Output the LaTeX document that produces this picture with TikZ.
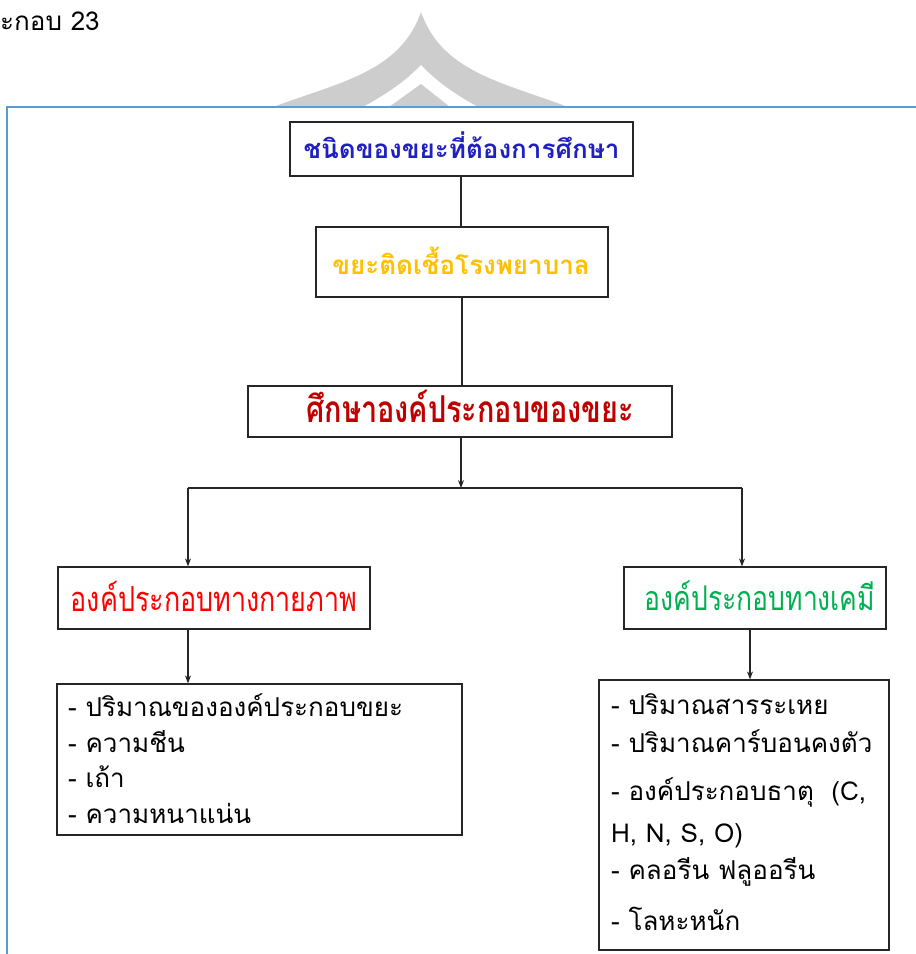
\documentclass[tikz,border=0pt]{standalone}
\usepackage{fontspec}
\newfontfamily\thai[Script=Thai]{Loma}
\newfontfamily\thaitall[Script=Thai,FakeStretch=0.78]{Loma}
\usetikzlibrary{arrows.meta}
\definecolor{frameblue}{HTML}{5B9BD5}
\definecolor{tblue}{HTML}{2020C0}
\definecolor{tgold}{HTML}{FFC000}
\definecolor{tdred}{HTML}{C00000}
\definecolor{tred}{HTML}{FF0000}
\definecolor{tgreen}{HTML}{00B050}
\definecolor{wm}{HTML}{CDCDCD}
\tikzset{
  box/.style={draw=black!85, line width=1.2pt, fill=white, inner sep=0pt, rectangle},
  lst/.style={anchor=west, inner sep=0pt, font=\thai\fontsize{26}{30}\selectfont, text=black},
  conn/.style={draw=black!85, line width=1.1pt},
  arr/.style={conn, -{Stealth[length=8pt,width=6pt]}},
}
\begin{document}
\begin{tikzpicture}[x=1pt,y=-1pt]
\useasboundingbox (0,0) rectangle (916,954);
% watermark
\fill[wm] (421,12) .. controls (400,72) and (340,82) .. (273,107) -- (568,107) .. controls (502,82) and (442,72) .. (421,12) -- cycle;
\fill[white] (421,65) .. controls (405,82) and (385,95) .. (363,107) -- (478,107) .. controls (456,95) and (437,82) .. (421,65) -- cycle;
\fill[wm] (421,84) -- (389,107) -- (450,107) -- cycle;
% frame
\draw[frameblue, line width=1.6pt] (7,954) -- (7,107) -- (916,107);
% top-left text
\node[anchor=west, inner sep=0pt, font=\thai\fontsize{26}{30}\selectfont] (hdr) at (0,21) {ะกอบ 23};
% boxes
\node[box, minimum width=343, minimum height=54] (b1) at (461.5,149) {};
\node[text=tblue, font=\thai\bfseries\fontsize{26}{30}\selectfont] (t1) at (461.5,145) {ชนิดของขยะที่ต้องการศึกษา};
\node[box, minimum width=292, minimum height=70] (b2) at (462,262) {};
\node[text=tgold, font=\thai\bfseries\fontsize{26}{30}\selectfont] (t2) at (461,261) {ขยะติดเชื้อโรงพยาบาล};
\node[box, minimum width=424, minimum height=51] (b3) at (460,411.5) {};
\node[text=tdred, font=\thaitall\bfseries\fontsize{37}{40}\selectfont] (t3) at (470,406) {ศึกษาองค์ประกอบของขยะ};
\node[box, minimum width=312, minimum height=62] (b4) at (214,598) {};
\node[text=tred, font=\thaitall\fontsize{34.5}{38}\selectfont] (t4) at (214,596) {องค์ประกอบทางกายภาพ};
\node[box, minimum width=262, minimum height=62] (b5) at (755,598) {};
\node[text=tgreen, font=\thaitall\fontsize{34}{38}\selectfont] (t5) at (760,596) {องค์ประกอบทางเคมี};
\node[box, minimum width=405, minimum height=151] (b6) at (259.5,759.5) {};
\node[lst] (l61) at (68,705) {- ปริมาณขององค์ประกอบขยะ};
\node[lst] (l62) at (68,742) {- ความชีน};
\node[lst] (l63) at (68,777) {- เถ้า};
\node[lst] (l64) at (68,813) {- ความหนาแน่น};
\node[box, minimum width=290, minimum height=270] (b7) at (744,815) {};
\node[lst] (l71) at (611,704) {- ปริมาณสารระเหย};
\node[lst] (l72) at (611,741) {- ปริมาณคาร์บอนคงตัว};
\node[lst] (l73) at (611,792) {- องค์ประกอบธาตุ\ \ (C,};
\node[lst] (l74) at (611,836) {H, N, S, O)};
\node[lst] (l75) at (611,872) {- คลอรีน ฟลูออรีน};
\node[lst] (l76) at (611,919) {- โลหะหนัก};
% connectors
\coordinate (j) at (461,488);
\coordinate (jl) at (188,488);
\coordinate (jr) at (742,488);
\draw[conn] (b1.south -| 461,0) -- (b2.north -| 461,0);
\draw[conn] (b2.south -| 462,0) -- (b3.north -| 462,0);
\draw[arr] (b3.south -| j) -- (j);
\draw[conn] (jl) -- (jr);
\draw[arr] (jl) -- (jl |- b4.north);
\draw[arr] (jr) -- (jr |- b5.north);
\draw[arr] (b4.south -| jl) -- (jl |- b6.north);
\coordinate (k) at (750,0);
\draw[arr] (b5.south -| k) -- (k |- b7.north);
\end{tikzpicture}
\end{document}
